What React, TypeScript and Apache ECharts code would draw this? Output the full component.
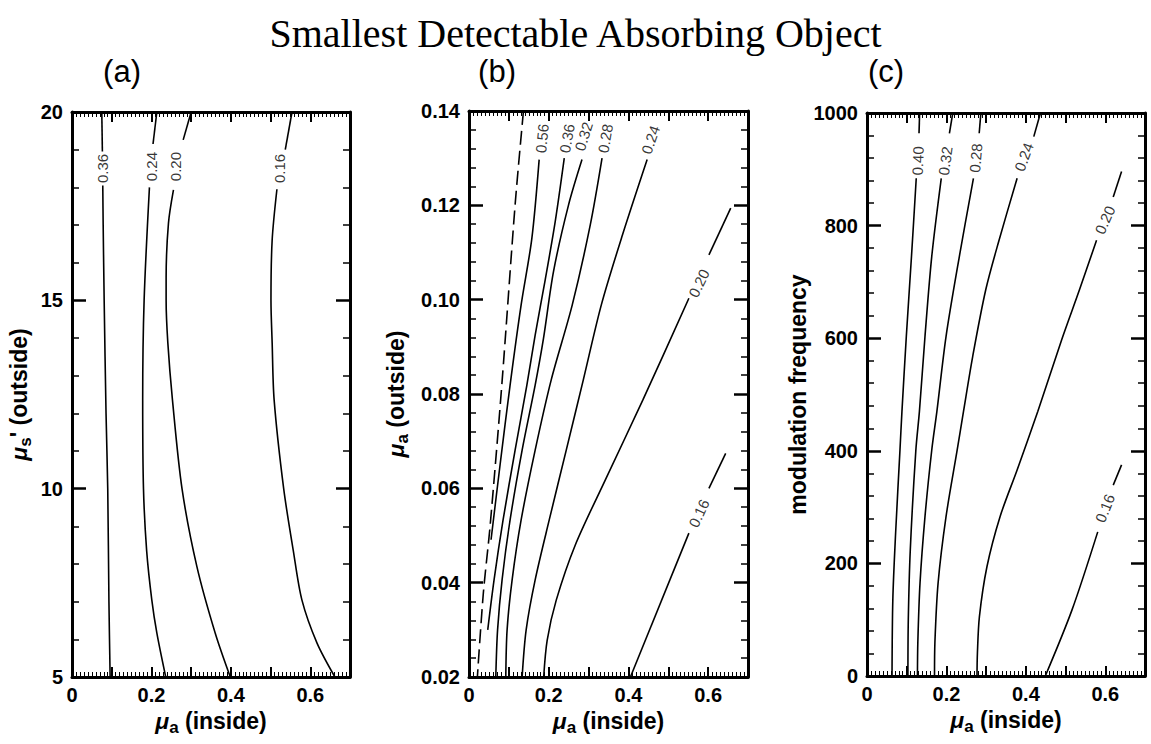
import { useEffect, useRef } from 'react';
import * as echarts from 'echarts';

const TITLE = 'Smallest Detectable Absorbing Object';
const PANEL_TAGS = ['(a)', '(b)', '(c)'];

// ---------- Panel (a): mu_s' (outside) vs mu_a (inside) ----------
const A_036_TOP = [[0.075, 20], [0.0765, 18.95]];
const A_036 = [[0.0775, 18.05], [0.0785, 17.0], [0.081, 15], [0.0857, 12], [0.09, 10], [0.093, 7], [0.096, 5]];
const A_024_TOP = [[0.2136, 20], [0.204, 19.15]];
const A_024 = [[0.195, 18.0], [0.1816, 15], [0.178, 12.35], [0.18, 10], [0.188, 8.35], [0.201, 7.04], [0.2136, 6.17], [0.236, 5]];
const A_020_TOP = [[0.3, 20], [0.28, 19.26]];
const A_020 = [[0.2555, 17.93], [0.2429, 17.05], [0.237, 15.6], [0.237, 15], [0.2413, 13.87], [0.253, 12.35], [0.277, 10], [0.3145, 7.93], [0.3607, 6.16], [0.3985, 5]];
const A_016_TOP = [[0.554, 20], [0.537, 19.0]];
const A_016 = [[0.516, 17.95], [0.504, 16.6], [0.501, 15], [0.504, 13.87], [0.509, 12.35], [0.533, 10], [0.557, 8.37], [0.579, 7.04], [0.617, 5.9], [0.662, 5]];
// label anchors: [x, y, angle, text]
const A_LABELS: [number, number, number, string][] = [
  [0.0757, 18.5, 90, '0.36'],
  [0.199, 18.55, 90, '0.24'],
  [0.2615, 18.55, 90, '0.20'],
  [0.523, 18.5, 90, '0.16'],
];

// ---------- Panel (b): mu_a (outside) vs mu_a (inside) ----------
const B_DASH = [[0.1366, 0.14], [0.1157, 0.1201], [0.0823, 0.0819], [0.0528, 0.0519], [0.036, 0.0378], [0.021, 0.02]];
const B_056 = [[0.176, 0.1297], [0.1577, 0.113], [0.1308, 0.0989], [0.1031, 0.0819], [0.078, 0.065], [0.0553, 0.0491]];
const B_036 = [[0.239, 0.13], [0.2164, 0.1166], [0.1912, 0.1042], [0.166, 0.0925], [0.1452, 0.0819], [0.1157, 0.0681], [0.0855, 0.0533], [0.0629, 0.0406], [0.047, 0.03]];
const B_032 = [[0.2835, 0.1297], [0.2498, 0.1201], [0.2121, 0.106], [0.1869, 0.0918], [0.166, 0.0819], [0.1333, 0.0681], [0.1031, 0.0533], [0.083, 0.0406], [0.0717, 0.03], [0.0672, 0.02]];
const B_028 = [[0.3338, 0.13], [0.3044, 0.1159], [0.2591, 0.0989], [0.2063, 0.083], [0.166, 0.0681], [0.1308, 0.0533], [0.1082, 0.0406], [0.0956, 0.03], [0.0923, 0.02]];
const B_024 = [[0.447, 0.1297], [0.385, 0.1137], [0.332, 0.0989], [0.2868, 0.083], [0.244, 0.0681], [0.2013, 0.0533], [0.166, 0.0406], [0.1434, 0.03], [0.1333, 0.02]];
const B_020_TOP = [[0.6566, 0.1194], [0.602, 0.1095]];
const B_020 = [[0.5517, 0.1003], [0.436, 0.0787], [0.3421, 0.0618], [0.2667, 0.048], [0.2189, 0.0363], [0.1962, 0.0278], [0.1874, 0.02]];
const B_016_TOP = [[0.644, 0.0674], [0.602, 0.06]];
const B_016 = [[0.5517, 0.0505], [0.405, 0.02]];
const B_LABELS: [number, number, number, string][] = [
  [0.183, 0.1342, 84, '0.56'],
  [0.2458, 0.1342, 80, '0.36'],
  [0.2875, 0.1346, 73, '0.32'],
  [0.342, 0.1342, 80, '0.28'],
  [0.4553, 0.1339, 71, '0.24'],
  [0.5769, 0.1035, 64, '0.20'],
  [0.5769, 0.0547, 65, '0.16'],
];

// ---------- Panel (c): modulation frequency vs mu_a (inside) ----------
const C_040_TOP = [[0.1325, 1000], [0.131, 964]];
const C_040 = [[0.124, 884], [0.112, 745], [0.099, 603], [0.088, 470], [0.083, 401], [0.072, 253], [0.065, 135], [0.063, 0]];
const C_032_TOP = [[0.216, 1000], [0.2075, 964]];
const C_032 = [[0.187, 884], [0.163, 745], [0.146, 603], [0.132, 470], [0.123, 401], [0.109, 224], [0.104, 100], [0.103, 0]];
const C_028_TOP = [[0.2867, 1000], [0.2825, 964]];
const C_028 = [[0.268, 884], [0.2325, 745], [0.199, 603], [0.176, 470], [0.163, 401], [0.146, 283], [0.1335, 165], [0.128, 60], [0.127, 0]];
const C_024_TOP = [[0.4367, 1000], [0.42, 958]];
const C_024 = [[0.378, 884], [0.3325, 774], [0.299, 686], [0.266, 567], [0.243, 470], [0.227, 401], [0.199, 283], [0.179, 165], [0.171, 60], [0.17, 0]];
const C_020_TOP = [[0.641, 896], [0.62, 851]];
const C_020 = [[0.578, 774], [0.535, 686], [0.49, 597], [0.43, 470], [0.378, 366], [0.335, 283], [0.302, 194], [0.283, 105], [0.278, 40], [0.277, 0]];
const C_016_TOP = [[0.641, 375], [0.62, 339]];
const C_016 = [[0.581, 256], [0.516, 117], [0.449, 0]];
const C_LABELS: [number, number, number, string][] = [
  [0.128, 915, 88, '0.40'],
  [0.197, 915, 82, '0.32'],
  [0.274, 920, 85, '0.28'],
  [0.395, 922, 70, '0.24'],
  [0.599, 810, 66, '0.20'],
  [0.599, 298, 68, '0.16'],
];

const PANEL_LINES = [
  [A_036_TOP, A_036, A_024_TOP, A_024, A_020_TOP, A_020, A_016_TOP, A_016],
  [B_056, B_036, B_032, B_028, B_024, B_020_TOP, B_020, B_016_TOP, B_016],
  [C_040_TOP, C_040, C_032_TOP, C_032, C_028_TOP, C_028, C_024_TOP, C_024, C_020_TOP, C_020, C_016_TOP, C_016],
];
const PANEL_DASHED = [[], [B_DASH], []];
const PANEL_LABELS = [A_LABELS, B_LABELS, C_LABELS];

const Y_MIN = [5, 0.02, 0];
const Y_MAX = [20, 0.14, 1000];
const Y_STEP = [5, 0.02, 200];
const X_MIN = 0;
const X_MAX = 0.7;
const X_STEP = 0.1;

const FONT = 'Liberation Sans, Arial, sans-serif';

const GRIDS = [
  { left: 72, top: 112, width: 278, height: 565 },
  { left: 469, top: 111, width: 279, height: 566 },
  { left: 867, top: 113, width: 278, height: 563 },
];
const TAG_X = [122, 497, 886];
const Y_NAMES = [
  "{mu|μ}{sub|s}{t|' (outside)}",
  '{mu|μ}{sub|a}{t| (outside)}',
  '{t|modulation frequency}',
];
const Y_NAME_GAP = [38, 58, 53];
const X_NAME = '{mu|μ}{sub|a}{t| (inside)}';

const rich = {
  mu: { fontFamily: FONT, fontWeight: 'bold', fontStyle: 'italic', fontSize: 23, lineHeight: 30, color: '#000' },
  sub: { fontFamily: FONT, fontWeight: 'bold', fontSize: 17, lineHeight: 16, verticalAlign: 'bottom', color: '#000' },
  t: { fontFamily: FONT, fontWeight: 'bold', fontSize: 23, lineHeight: 30, color: '#000' },
};

function buildOption() {
  const frame = { color: '#000', width: 3 };
  const xAxis: any[] = [];
  const yAxis: any[] = [];
  const series: any[] = [];
  GRIDS.forEach((_, p) => {
    const xBase = {
      type: 'value', gridIndex: p, min: X_MIN, max: X_MAX, interval: X_STEP,
      splitLine: { show: false },
      axisLine: { show: true, onZero: false, lineStyle: frame },
      axisTick: { show: true, inside: true, length: 10, lineStyle: { color: '#000', width: 2 } },
      minorTick: { show: true, splitNumber: 10, length: 5, lineStyle: { color: '#000', width: 1 } },
    };
    xAxis.push({
      ...xBase, position: 'bottom',
      axisLabel: {
        show: true, margin: 8, color: '#000', fontFamily: FONT, fontWeight: 'bold', fontSize: 20,
        formatter: (v: number) => {
          const t = Math.round(v * 10);
          if (t % 2 !== 0 || t > 6) return '';
          return t === 0 ? '0' : (t / 10).toFixed(1);
        },
      },
      name: X_NAME, nameLocation: 'middle', nameGap: 27, nameTextStyle: { rich },
    });
    xAxis.push({ ...xBase, position: 'top', axisLabel: { show: false } });

    const yBase = {
      type: 'value', gridIndex: p, min: Y_MIN[p], max: Y_MAX[p], interval: Y_STEP[p],
      splitLine: { show: false },
      axisLine: { show: true, onZero: false, lineStyle: frame },
      axisTick: { show: true, inside: true, length: 14, lineStyle: { color: '#000', width: 2.5 } },
      minorTick: { show: true, splitNumber: 5, length: 7, lineStyle: { color: '#000', width: 1.5 } },
    };
    yAxis.push({
      ...yBase, position: 'left',
      axisLabel: {
        show: true, margin: 9, color: '#000', fontFamily: FONT, fontWeight: 'bold', fontSize: 20,
        formatter: (v: number) => (p === 1 ? v.toFixed(2) : String(Math.round(v))),
      },
      name: Y_NAMES[p], nameLocation: 'middle', nameRotate: 90, nameGap: Y_NAME_GAP[p], nameTextStyle: { rich },
    });
    yAxis.push({ ...yBase, position: 'right', axisLabel: { show: false } });

    const lineStyleBase = { color: '#000', width: 1.6 };
    PANEL_LINES[p].forEach((seg) => {
      series.push({
        type: 'line', xAxisIndex: 2 * p, yAxisIndex: 2 * p, data: seg, symbol: 'none',
        smooth: 0.3,
        lineStyle: { ...lineStyleBase }, silent: true, z: 3,
      });
    });
    PANEL_DASHED[p].forEach((seg) => {
      series.push({
        type: 'line', xAxisIndex: 2 * p, yAxisIndex: 2 * p, data: seg, symbol: 'none',
        smooth: 0.3,
        lineStyle: { ...lineStyleBase, type: [14, 6] }, silent: true, z: 3,
      });
    });
    series.push({
      type: 'scatter', xAxisIndex: 2 * p, yAxisIndex: 2 * p, symbol: 'circle', symbolSize: 1, silent: true, z: 4,
      itemStyle: { color: 'rgba(0,0,0,0)' },
      label: { show: true, position: 'inside', color: '#000', fontFamily: FONT, fontSize: 15 },
      labelLayout: { hideOverlap: false },
      data: PANEL_LABELS[p].map((l) => ({ value: [l[0], l[1]], label: { show: true, formatter: l[3], rotate: l[2] } })),
    });
  });

  const graphic: any[] = [
    {
      type: 'text', x: 575.5, y: 33,
      style: { text: TITLE, textAlign: 'center', textVerticalAlign: 'middle', font: '40px "Liberation Serif", "Times New Roman", serif', fill: '#000' },
    },
    ...PANEL_TAGS.map((t, i) => ({
      type: 'text', x: TAG_X[i], y: 71,
      style: { text: t, textAlign: 'center', textVerticalAlign: 'middle', font: `31px ${FONT}`, fill: '#000' },
    })),
  ];

  return {
    animation: false,
    backgroundColor: '#fff',
    grid: GRIDS.map((g) => ({ ...g, containLabel: false })),
    xAxis, yAxis, series, graphic,
  };
}

export default function App() {
  const ref = useRef<HTMLDivElement>(null);
  useEffect(() => {
    if (!ref.current) return;
    const chart = echarts.init(ref.current, undefined, { renderer: 'svg' });
    chart.setOption(buildOption() as any);
    return () => chart.dispose();
  }, []);
  return <div ref={ref} style={{ position: 'absolute', left: 0, top: 0, width: 1151, height: 744 }} />;
}
